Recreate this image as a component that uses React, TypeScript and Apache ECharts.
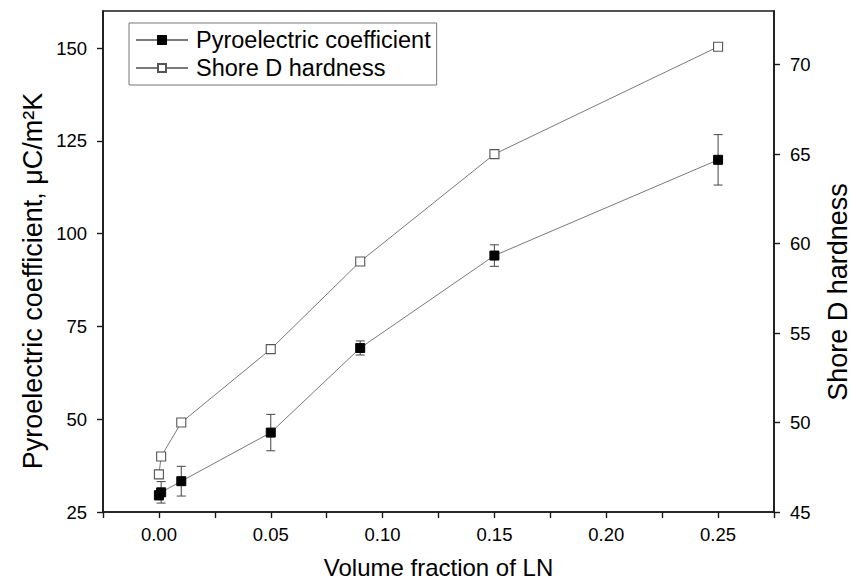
import React, { useEffect, useRef } from "react";
import * as echarts from "echarts";

// ---- data ----
const xValues = [0, 0.001, 0.01, 0.05, 0.09, 0.15, 0.25];
const pyroValues = [29.5, 30.3, 33.3, 46.4, 69.2, 94.1, 119.9];
const pyroErrors = [1.2, 2.9, 4.0, 4.9, 1.9, 2.9, 6.8];
const shoreValues = [47.1, 48.1, 50, 54.1, 59, 65, 71];

const xTickValues = [-0.025, 0, 0.025, 0.05, 0.075, 0.1, 0.125, 0.15, 0.175, 0.2, 0.225, 0.25, 0.275];
const xLabelValues = [0, 0.05, 0.1, 0.15, 0.2, 0.25];
const leftTickValues = [25, 50, 75, 100, 125, 150];
const rightTickValues = [45, 50, 55, 60, 65, 70];

const seriesNames = ["Pyroelectric coefficient", "Shore D hardness"];
const xTitle = "Volume fraction of LN";
const leftTitle = "Pyroelectric coefficient, μC/m²K";
const rightTitle = "Shore D hardness";

const FONT = "'Liberation Sans', Arial, Helvetica, sans-serif";
const AXIS_COLOR = "#1a1a1a";
const LINE_COLOR = "#7a7a7a";

export default function App() {
  const ref = useRef<HTMLDivElement>(null);

  useEffect(() => {
    if (!ref.current) return;
    const chart = echarts.init(ref.current, undefined, { renderer: "svg" });

    const pyroData = xValues.map((x, i) => [x, pyroValues[i]]);
    const shoreData = xValues.map((x, i) => [x, shoreValues[i]]);
    const errData = xValues.map((x, i) => [x, pyroValues[i] - pyroErrors[i], pyroValues[i] + pyroErrors[i]]);

    const axisLine = { show: true, onZero: false, lineStyle: { color: AXIS_COLOR, width: 1.6 } };

    const option: any = {
      animation: false,
      backgroundColor: "#ffffff",
      textStyle: { fontFamily: FONT },
      grid: {
        left: 103,
        right: 83,
        top: 11,
        bottom: 67,
        show: true,
        borderColor: AXIS_COLOR,
        borderWidth: 1.6,
        containLabel: false,
        outerBoundsMode: "none",
      },
      legend: {
        data: seriesNames,
        orient: "vertical",
        left: 129,
        top: 23,
        itemWidth: 52,
        itemHeight: 10,
        itemGap: 4,
        padding: [5, 6, 5, 6],
        borderColor: "#777",
        borderWidth: 1,
        selectedMode: false,
        textStyle: { fontSize: 23.5, fontFamily: FONT, color: "#000", padding: [0, 0, 0, 3] },
      },
      xAxis: {
        type: "value",
        min: -0.025,
        max: 0.275,
        interval: 0.025,
        axisLine,
        axisTick: { show: true, length: 6, inside: false, customValues: xTickValues, lineStyle: { color: AXIS_COLOR, width: 1.4 } },
        axisLabel: {
          customValues: xLabelValues,
          margin: 13,
          fontSize: 18.5,
          fontFamily: FONT,
          color: "#000",
          formatter: (v: number) => {
            const r = Math.round(v * 1000) / 1000;
            return Math.abs(Math.round(r / 0.05) * 0.05 - r) < 1e-6 && r >= 0 ? r.toFixed(2) : "";
          },
        },
        splitLine: { show: false },
        name: xTitle,
        nameLocation: "middle",
        nameGap: 43,
        nameTextStyle: { fontSize: 24, fontFamily: FONT, color: "#000" },
      },
      yAxis: [
        {
          type: "value",
          position: "left",
          min: 25,
          max: 160,
          interval: 25,
          axisLine,
          axisTick: { show: true, length: 6, customValues: leftTickValues, lineStyle: { color: AXIS_COLOR, width: 1.4 } },
          axisLabel: {
            customValues: leftTickValues,
            margin: 16,
            fontSize: 18.5,
            fontFamily: FONT,
            color: "#000",
            formatter: (v: number) => (leftTickValues.indexOf(v) >= 0 ? String(v) : ""),
          },
          splitLine: { show: false },
        },
        {
          type: "value",
          position: "right",
          min: 45,
          max: 73,
          interval: 5,
          axisLine,
          axisTick: { show: true, length: 6, customValues: rightTickValues, lineStyle: { color: AXIS_COLOR, width: 1.4 } },
          axisLabel: {
            customValues: rightTickValues,
            margin: 16,
            fontSize: 18.5,
            fontFamily: FONT,
            color: "#000",
            formatter: (v: number) => (rightTickValues.indexOf(v) >= 0 ? String(v) : ""),
          },
          splitLine: { show: false },
        },
      ],
      graphic: [
        {
          type: "text",
          x: 33,
          y: 281,
          rotation: Math.PI / 2,
          style: {
            text: leftTitle,
            font: `27px ${FONT}`,
            fill: "#000",
            align: "center",
            verticalAlign: "middle",
          },
        },
        {
          type: "text",
          x: 838,
          y: 292,
          rotation: Math.PI / 2,
          style: {
            text: rightTitle,
            font: `27px ${FONT}`,
            fill: "#000",
            align: "center",
            verticalAlign: "middle",
          },
        },
      ],
      series: [
        {
          name: "Error",
          type: "custom",
          xAxisIndex: 0,
          yAxisIndex: 0,
          data: errData,
          encode: { x: 0, y: [1, 2] },
          z: 2,
          silent: true,
          renderItem: (params: any, api: any) => {
            const x = api.value(0);
            const lo = api.coord([x, api.value(1)]);
            const hi = api.coord([x, api.value(2)]);
            const w = 4.5;
            const style = { stroke: "#555", lineWidth: 1.1 };
            return {
              type: "group",
              children: [
                { type: "line", shape: { x1: lo[0], y1: lo[1], x2: hi[0], y2: hi[1] }, style },
                { type: "line", shape: { x1: hi[0] - w, y1: hi[1], x2: hi[0] + w, y2: hi[1] }, style },
                { type: "line", shape: { x1: lo[0] - w, y1: lo[1], x2: lo[0] + w, y2: lo[1] }, style },
              ],
            };
          },
        },
        {
          name: seriesNames[0],
          type: "line",
          yAxisIndex: 0,
          data: pyroData,
          symbol: "rect",
          symbolSize: 9,
          showAllSymbol: true,
          z: 4,
          lineStyle: { color: LINE_COLOR, width: 1 },
          itemStyle: { color: "#000", borderColor: "#000", borderWidth: 1 },
        },
        {
          name: seriesNames[1],
          type: "line",
          yAxisIndex: 1,
          data: shoreData,
          symbol: "rect",
          symbolSize: 9,
          showAllSymbol: true,
          z: 4,
          lineStyle: { color: LINE_COLOR, width: 1 },
          itemStyle: { color: "#fff", borderColor: "#555", borderWidth: 1.1 },
        },
      ],
    };

    chart.setOption(option);
    return () => chart.dispose();
  }, []);

  return (
    <div
      ref={ref}
      style={{ position: "fixed", left: 0, top: 0, width: 857, height: 579, background: "#fff" }}
    />
  );
}
